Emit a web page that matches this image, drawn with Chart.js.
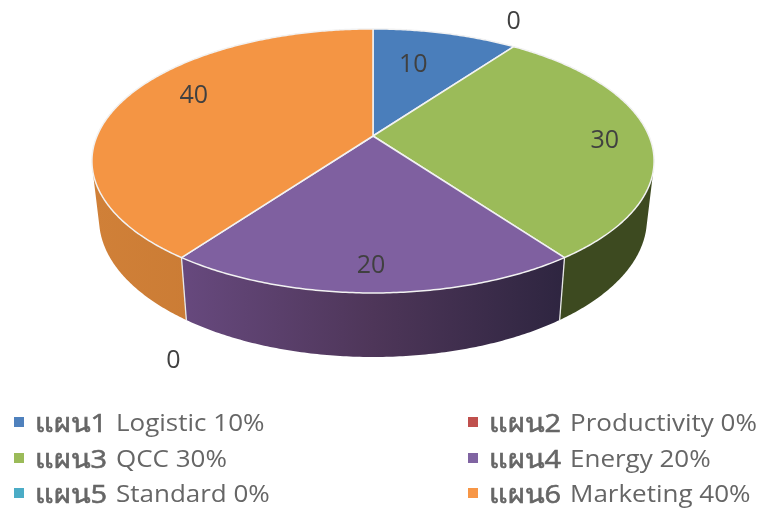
<!DOCTYPE html>
<html>
<head>
<meta charset="utf-8">
<style>
body { margin: 0; background: #fff; overflow: hidden; }
#wrap { position: relative; width: 763px; height: 509px; }
#myChart { position: absolute; left: 0; top: 0; }
.item { position: absolute; white-space: nowrap; color: #666; font-family: "Open Sans", "Noto Sans", sans-serif; line-height: 30px; transform-origin: left center; }
.plan { font-size: 26px; font-weight: 500; -webkit-text-stroke: 0.6px #666; transform: scaleX(1.11); }
.topic { font-size: 23px; transform: scaleX(1.13); }
.box { position: absolute; width: 10px; height: 10px; }
</style>
</head>
<body>
<div id="wrap">
<canvas id="myChart" width="763" height="509"></canvas>
</div>
<script src="https://cdn.jsdelivr.net/npm/chart.js@4"></script>
<script>
const plans = ["แผน1", "แผน2", "แผน3", "แผน4", "แผน5", "แผน6"]
const topics = ["Logistic", "Productivity", "QCC", "Energy", "Standard", "Marketing"]
const values = [10, 0, 30, 20, 0, 40]
const topColors = ["#4a7ebb", "#be4b48", "#9bbb59", "#7f60a0", "#4bacc6", "#f49544"]
const boxColors = ["#4f81bd", "#c0504d", "#9bbb59", "#8064a2", "#4bacc6", "#f79646"]

// wall shade, left to right, for each slice
const wallColors = [
    ["#2c4a70", "#2c4a70"],
    ["#702c2a", "#702c2a"],
    ["#3d4a20", "#3d4a20"],
    ["#67497e", "#4e3659", "#2e2540"],
    ["#2a6a7a", "#2a6a7a"],
    ["#d08038", "#c2752f"]
]

// where each number sits: radius on the disc, then a nudge in pixels
const labelPlace = [
    [0.84, -22, 17],
    [1, 0, -25],
    [0.84, 0, 5],
    [0.845, -2, 2],
    [1, -8, 103],
    [0.84, 31, -9]
]

// perspective of the disc, top face and bottom face
const topFace = {cx: 373, cy: 136, a: 276, b: 127.3, p: 0.189}
const baseFace = {cx: 373, cy: 193, a: 269, b: 133, p: 0.189}

function project(face, angle, r){
    let u = Math.sin(angle) * r
    let v = Math.cos(angle) * r
    let d = 1 + face.p * v
    return [face.cx + face.a * u / d, face.cy - face.b * v / d]
}

function rim(ctx, face, from, to, first){
    let steps = Math.max(2, Math.ceil(Math.abs(to - from) / 0.01))
    for (let i = 0; i <= steps; i++){
        let pt = project(face, from + (to - from) * i / steps, 1)
        if(i == 0 && first){
            ctx.moveTo(pt[0], pt[1])
        } else {
            ctx.lineTo(pt[0], pt[1])
        }
    }
}

// wall as small quads, all wound the same way so the fold at the silhouette stays filled
function wall(ctx, from, to){
    let steps = Math.max(2, Math.ceil((to - from) / 0.01))
    for (let i = 0; i < steps; i++){
        let t0 = from + (to - from) * i / steps
        let t1 = from + (to - from) * (i + 1) / steps
        let q = [project(topFace, t0, 1), project(topFace, t1, 1), project(baseFace, t1, 1), project(baseFace, t0, 1)]
        let area = 0
        for (let k = 0; k < 4; k++){
            let n = q[(k + 1) % 4]
            area += q[k][0] * n[1] - n[0] * q[k][1]
        }
        if(area < 0) q.reverse()
        ctx.moveTo(q[0][0], q[0][1])
        ctx.lineTo(q[1][0], q[1][1])
        ctx.lineTo(q[2][0], q[2][1])
        ctx.lineTo(q[3][0], q[3][1])
        ctx.closePath()
    }
}

function sliceAngles(arc){
    return [arc.startAngle + Math.PI / 2, arc.endAngle + Math.PI / 2]
}

const pie3d = {
    id: "pie3d",
    beforeDatasetDraw(chart){
        const ctx = chart.ctx
        const arcs = chart.getDatasetMeta(0).data

        // side walls first, the top covers whatever is behind
        arcs.forEach((arc, i) => {
            if(values[i] == 0) return
            const [a0, a1] = sliceAngles(arc)
            const x0 = Math.min(project(topFace, a0, 1)[0], project(topFace, a1, 1)[0])
            const x1 = Math.max(project(topFace, a0, 1)[0], project(topFace, a1, 1)[0])
            let lo = a0 < Math.PI * 1.5 && a1 > Math.PI * 1.5 ? 93 : x0
            let hi = a0 < Math.PI / 2 && a1 > Math.PI / 2 ? 653 : x1
            const grad = ctx.createLinearGradient(lo, 0, hi, 0)
            wallColors[i].forEach((c, k) => grad.addColorStop(k / (wallColors[i].length - 1), c))
            ctx.beginPath()
            wall(ctx, a0, a1)
            ctx.fillStyle = grad
            ctx.fill()
        })

        // white seams between walls
        ctx.strokeStyle = "#e8e8e8"
        ctx.lineWidth = 1.3
        arcs.forEach((arc, i) => {
            if(values[i] == 0) return
            const a1 = sliceAngles(arc)[1]
            if(Math.cos(a1) > 0) return
            const p0 = project(topFace, a1, 1)
            const p1 = project(baseFace, a1, 1)
            ctx.beginPath()
            ctx.moveTo(p0[0], p0[1])
            ctx.lineTo(p1[0], p1[1])
            ctx.stroke()
        })

        arcs.forEach((arc, i) => {
            if(values[i] == 0) return
            const [a0, a1] = sliceAngles(arc)
            ctx.beginPath()
            ctx.moveTo(topFace.cx, topFace.cy)
            rim(ctx, topFace, a0, a1, false)
            ctx.closePath()
            ctx.fillStyle = topColors[i]
            ctx.fill()
            ctx.strokeStyle = "#f2f2f2"
            ctx.lineWidth = 1.5
            ctx.lineJoin = "round"
            ctx.stroke()
        })

        ctx.fillStyle = "#404040"
        ctx.font = "25px 'Open Sans', 'Noto Sans', sans-serif"
        ctx.textAlign = "center"
        ctx.textBaseline = "middle"
        arcs.forEach((arc, i) => {
            const [a0, a1] = sliceAngles(arc)
            const place = labelPlace[i]
            const pt = project(topFace, (a0 + a1) / 2, place[0])
            ctx.fillText(String(values[i]), pt[0] + place[1], pt[1] + place[2])
        })
        return false
    }
}

new Chart("myChart", {
    type: "pie",
    data: {
        labels: plans,
        datasets: [{
            data: values,
            backgroundColor: boxColors
        }]
    },
    options: {
        responsive: false,
        animation: false,
        plugins: {
            legend: {display: false},
            tooltip: {enabled: false}
        }
    },
    plugins: [pie3d]
})

// legend, two columns
const wrap = document.getElementById("wrap")
const colX = [14, 468]
const rowY = [422, 458, 493]

function addText(cls, text, x, y){
    const item = document.createElement("div")
    item.className = "item " + cls
    item.style.left = x + "px"
    item.style.top = (y - 15) + "px"
    item.textContent = text
    wrap.appendChild(item)
}

plans.forEach((plan, i) => {
    const x = colX[i % 2]
    const y = rowY[Math.floor(i / 2)]
    const box = document.createElement("div")
    box.className = "box"
    box.style.left = x + "px"
    box.style.top = (y - 5) + "px"
    box.style.background = boxColors[i]
    wrap.appendChild(box)
    addText("plan", plan, x + 21, y)
    addText("topic", topics[i] + " " + values[i] + "%", x + 102, y)
})
</script>
</body>
</html>
